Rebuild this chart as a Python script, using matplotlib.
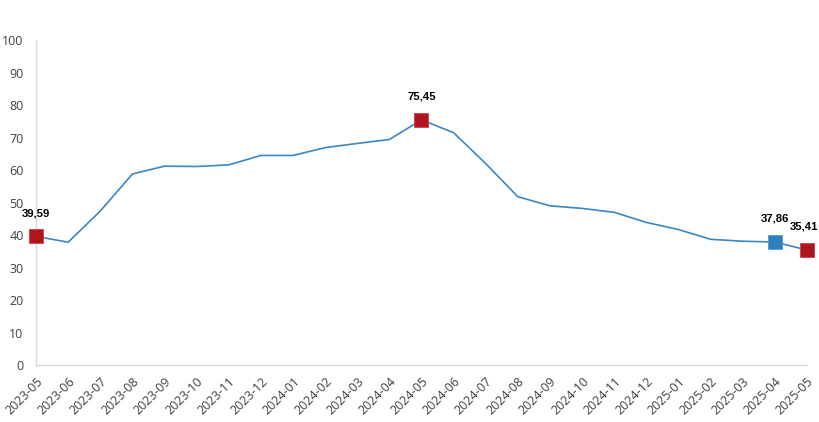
import matplotlib
matplotlib.use("Agg")
import matplotlib.pyplot as plt
import numpy as np

plt.rcParams['font.family'] = ['Open Sans', 'DejaVu Sans']

# --- Data ---
months = ["2023-05", "2023-06", "2023-07", "2023-08", "2023-09", "2023-10",
          "2023-11", "2023-12", "2024-01", "2024-02", "2024-03", "2024-04",
          "2024-05", "2024-06", "2024-07", "2024-08", "2024-09", "2024-10",
          "2024-11", "2024-12", "2025-01", "2025-02", "2025-03", "2025-04",
          "2025-05"]
values = [39.59, 37.8, 47.4, 58.8, 61.2, 61.1, 61.6, 64.5, 64.5, 66.9,
          68.2, 69.4, 75.45, 71.5, 62.0, 51.8, 49.0, 48.2, 47.0, 43.9,
          41.7, 38.7, 38.1, 37.86, 35.41]

# highlighted points
red_idx = [0, 12, 24]
blue_idx = [23]

LINE = "#3b87c2"
RED = "#b0141c"
BLUE = "#2f7ec0"

fig = plt.figure(figsize=(8.2, 4.22), dpi=100)
ax = fig.add_axes([0.044, 0.135, 0.940, 0.770])

x = np.arange(len(months))
ax.plot(x, values, color=LINE, linewidth=1.2, zorder=2)

ax.plot(x[red_idx], np.array(values)[red_idx], "s", color=RED,
        markersize=10, markeredgecolor="#d04048", markeredgewidth=0.6,
        clip_on=False, zorder=3)
ax.plot(x[blue_idx], np.array(values)[blue_idx], "s", color=BLUE,
        markersize=10, markeredgecolor="#4f9ad6", markeredgewidth=0.6,
        clip_on=False, zorder=3)

for i in red_idx + blue_idx:
    # last label pulled in a little so it stays inside the figure
    dx = -2 if i == len(months) - 1 else 0
    ax.annotate(f"{values[i]:.2f}".replace(".", ","), (x[i], values[i]),
                xytext=(dx, 13), textcoords="offset points",
                ha="center", va="bottom", fontsize=8.2, fontweight="bold",
                family=["Liberation Sans", "DejaVu Sans"], color="black",
                annotation_clip=False)

ax.set_xlim(0, len(months) - 1)
ax.set_ylim(0, 100)
ax.set_yticks(np.arange(0, 101, 10))
ax.set_xticks(x)
ax.set_xticklabels(months, rotation=45, ha="right", rotation_mode="anchor")

for s in ["top", "right"]:
    ax.spines[s].set_visible(False)
for s in ["left", "bottom"]:
    ax.spines[s].set_color("#d9d9d9")
    ax.spines[s].set_linewidth(1.0)

ax.tick_params(axis="both", length=0, labelsize=9, colors="#404040")
ax.tick_params(axis="y", pad=9)
ax.tick_params(axis="x", pad=7)

fig.savefig("out.png", dpi=100)
